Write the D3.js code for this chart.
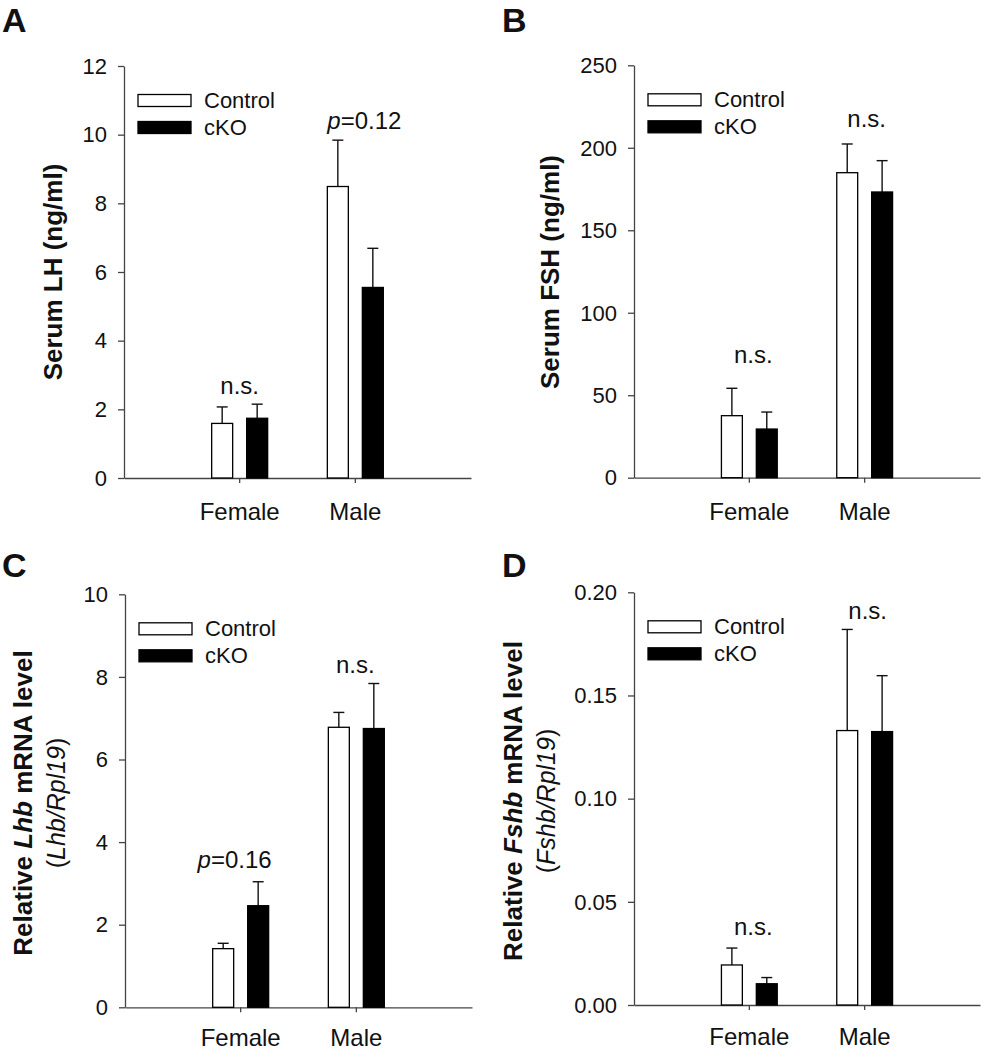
<!DOCTYPE html>
<html>
<head>
<meta charset="utf-8">
<script src="https://cdn.jsdelivr.net/npm/d3@7"></script>
<style>
  html, body { margin: 0; padding: 0; background: #fff; }
  svg { display: block; font-family: "Liberation Sans", Arial, sans-serif; }
</style>
</head>
<body>
<svg id="chart" width="981" height="1050"></svg>
<script>
// ---------- DATA ----------
const categories = ["Female", "Male"];
const seriesNames = ["Control", "cKO"];

// Panel A: Serum LH (ng/ml)
const lhControl    = [1.59, 8.49];
const lhControlErr = [0.48, 1.35];
const lhCko        = [1.74, 5.55];
const lhCkoErr     = [0.41, 1.14];
const lhTicks      = [0, 2, 4, 6, 8, 10, 12];
const lhNotes      = ["n.s.", "p=0.12"];

// Panel B: Serum FSH (ng/ml)
const fshControl    = [37.6, 184.9];
const fshControlErr = [16.6, 17.4];
const fshCko        = [29.5, 173.2];
const fshCkoErr     = [10.3, 19.0];
const fshTicks      = [0, 50, 100, 150, 200, 250];
const fshNotes      = ["n.s.", "n.s."];

// Panel C: Relative Lhb mRNA level
const lhbControl    = [1.42, 6.78];
const lhbControlErr = [0.13, 0.36];
const lhbCko        = [2.46, 6.75];
const lhbCkoErr     = [0.58, 1.09];
const lhbTicks      = [0, 2, 4, 6, 8, 10];
const lhbNotes      = ["p=0.16", "n.s."];

// Panel D: Relative Fshb mRNA level
const fshbControl    = [0.0194, 0.1330];
const fshbControlErr = [0.0082, 0.0490];
const fshbCko        = [0.0103, 0.1325];
const fshbCkoErr     = [0.0030, 0.0271];
const fshbTicks      = [0, 0.05, 0.10, 0.15, 0.20];
const fshbNotes      = ["n.s.", "n.s."];

// ---------- LAYOUT ----------
const FONT = '"Liberation Sans", Arial, sans-serif';
const AXIS_COLOR = "#444";

const panels = [
  {
    letter: "A", letterX: 2, letterY: 32,
    x0: 124, x1: 471, yTop: 66, yBot: 478, max: 12, ticks: lhTicks, fmt: d3.format("d"),
    control: lhControl, controlErr: lhControlErr, cko: lhCko, ckoErr: lhCkoErr,
    notes: lhNotes, noteDx: [0, 9], noteGap: [10, 11], xPad: 20,
    title: [[{t: "Serum LH (ng/ml)", w: "bold"}]], titleX: [62], titleY: 272
  },
  {
    letter: "B", letterX: 502, letterY: 32,
    x0: 634, x1: 980, yTop: 65.3, yBot: 477.7, max: 250, ticks: fshTicks, fmt: d3.format("d"),
    control: fshControl, controlErr: fshControlErr, cko: fshCko, ckoErr: fshCkoErr,
    notes: fshNotes, noteDx: [4, 2], noteGap: [25, 17], xPad: 20,
    title: [[{t: "Serum FSH (ng/ml)", w: "bold"}]], titleX: [559], titleY: 272
  },
  {
    letter: "C", letterX: 2, letterY: 577,
    x0: 125, x1: 472, yTop: 594.3, yBot: 1007.3, max: 10, ticks: lhbTicks, fmt: d3.format("d"),
    control: lhbControl, controlErr: lhbControlErr, cko: lhbCko, ckoErr: lhbCkoErr,
    notes: lhbNotes, noteDx: [-6, -1], noteGap: [14, 10.5], xPad: 17,
    title: [
      [{t: "Relative ", w: "bold"}, {t: "Lhb", w: "bold", i: true}, {t: " mRNA level", w: "bold"}],
      [{t: "(", w: "normal"}, {t: "Lhb/Rpl19", w: "normal", i: true}, {t: ")", w: "normal"}]
    ],
    titleX: [32, 65], titleY: 803
  },
  {
    letter: "D", letterX: 502, letterY: 577,
    x0: 634, x1: 980, yTop: 592.3, yBot: 1005, max: 0.20, ticks: fshbTicks, fmt: d3.format(".2f"),
    control: fshbControl, controlErr: fshbControlErr, cko: fshbCko, ckoErr: fshbCkoErr,
    notes: fshbNotes, noteDx: [4, 3], noteGap: [13.5, 10.7], xPad: 18,
    title: [
      [{t: "Relative ", w: "bold"}, {t: "Fshb", w: "bold", i: true}, {t: " mRNA level", w: "bold"}],
      [{t: "(", w: "normal"}, {t: "Fshb/Rpl19", w: "normal", i: true}, {t: ")", w: "normal"}]
    ],
    titleX: [522, 555], titleY: 801
  }
];

const svg = d3.select("#chart");
svg.append("rect").attr("width", 981).attr("height", 1050).attr("fill", "#fff");

function drawPanel(p) {
  const g = svg.append("g");

  // panel letter
  g.append("text").attr("x", p.letterX).attr("y", p.letterY)
    .attr("font-size", 34).attr("font-weight", "bold").attr("fill", "#111")
    .text(p.letter);

  // scales
  const x = d3.scaleBand().domain(categories).range([p.x0, p.x1])
    .paddingInner(0.516).paddingOuter(0.758);
  const xs = d3.scaleBand().domain(seriesNames).range([0, x.bandwidth()])
    .paddingInner(0.4).paddingOuter(0);
  const y = d3.scaleLinear().domain([0, p.max]).range([p.yBot, p.yTop]);

  // axes
  const yAxis = d3.axisLeft(y).tickValues(p.ticks).tickFormat(p.fmt)
    .tickSize(6).tickSizeOuter(0).tickPadding(11);
  const ya = g.append("g").attr("transform", `translate(${p.x0},0)`).call(yAxis);
  ya.selectAll("path.domain").attr("stroke", AXIS_COLOR).attr("stroke-width", 1.3);
  ya.selectAll(".tick line").attr("stroke", AXIS_COLOR).attr("stroke-width", 1.3);
  ya.selectAll(".tick text").attr("font-size", 22).attr("font-family", FONT)
    .attr("fill", "#111").attr("dy", "0.33em");

  const xAxis = d3.axisBottom(x).tickSize(5).tickSizeOuter(0).tickPadding(p.xPad);
  const xa = g.append("g").attr("transform", `translate(0,${p.yBot})`).call(xAxis);
  xa.selectAll("path.domain").attr("stroke", AXIS_COLOR).attr("stroke-width", 1.3);
  xa.selectAll(".tick line").attr("stroke", AXIS_COLOR).attr("stroke-width", 1.3);
  xa.selectAll(".tick text").attr("font-size", 24).attr("font-family", FONT).attr("fill", "#111");

  // data rows
  const rows = [];
  categories.forEach((c, i) => {
    rows.push({cat: c, s: "Control", v: p.control[i], e: p.controlErr[i]});
    rows.push({cat: c, s: "cKO", v: p.cko[i], e: p.ckoErr[i]});
  });

  // error bars (upper only), drawn first
  const eb = g.append("g");
  rows.forEach(r => {
    const cx = x(r.cat) + xs(r.s) + xs.bandwidth() / 2;
    eb.append("line").attr("x1", cx).attr("x2", cx)
      .attr("y1", y(r.v)).attr("y2", y(r.v + r.e))
      .attr("stroke", "#111").attr("stroke-width", 1.4);
    eb.append("line").attr("x1", cx - 5.5).attr("x2", cx + 5.5)
      .attr("y1", y(r.v + r.e)).attr("y2", y(r.v + r.e))
      .attr("stroke", "#111").attr("stroke-width", 1.4);
  });

  // bars
  g.append("g").selectAll("rect").data(rows).join("rect")
    .attr("x", d => x(d.cat) + xs(d.s))
    .attr("width", xs.bandwidth())
    .attr("y", d => y(d.v))
    .attr("height", d => y(0) - y(d.v))
    .attr("fill", d => d.s === "Control" ? "#fff" : "#000")
    .attr("stroke", "#000").attr("stroke-width", 1.3);

  // annotations
  categories.forEach((c, i) => {
    const top = Math.max(p.control[i] + p.controlErr[i], p.cko[i] + p.ckoErr[i]);
    const tx = x(c) + x.bandwidth() / 2 + p.noteDx[i];
    const ty = y(top) - p.noteGap[i];
    const t = g.append("text").attr("x", tx).attr("y", ty)
      .attr("text-anchor", "middle").attr("font-size", 24).attr("fill", "#111");
    const note = p.notes[i];
    if (note.startsWith("p=")) {
      t.append("tspan").attr("font-style", "italic").text("p");
      t.append("tspan").text(note.slice(1));
    } else {
      t.text(note);
    }
  });

  // legend
  const lx = p.x0 + 14, ly = p.yTop + 28.5;
  seriesNames.forEach((s, i) => {
    g.append("rect").attr("x", lx).attr("y", ly + i * 27).attr("width", 53).attr("height", 12)
      .attr("fill", s === "Control" ? "#fff" : "#000").attr("stroke", "#000").attr("stroke-width", 1.3);
    g.append("text").attr("x", lx + 66).attr("y", ly + i * 27 + 13)
      .attr("font-size", 22).attr("fill", "#111").text(s);
  });

  // y title (rotated)
  p.title.forEach((line, li) => {
    const t = g.append("text")
      .attr("transform", `translate(${p.titleX[li]},${p.titleY}) rotate(-90)`)
      .attr("text-anchor", "middle").attr("font-size", li === 0 ? 26 : 25).attr("fill", "#111");
    line.forEach(seg => {
      t.append("tspan").attr("font-weight", seg.w)
        .attr("font-style", seg.i ? "italic" : "normal").text(seg.t);
    });
  });
}

panels.forEach(drawPanel);
</script>
</body>
</html>
